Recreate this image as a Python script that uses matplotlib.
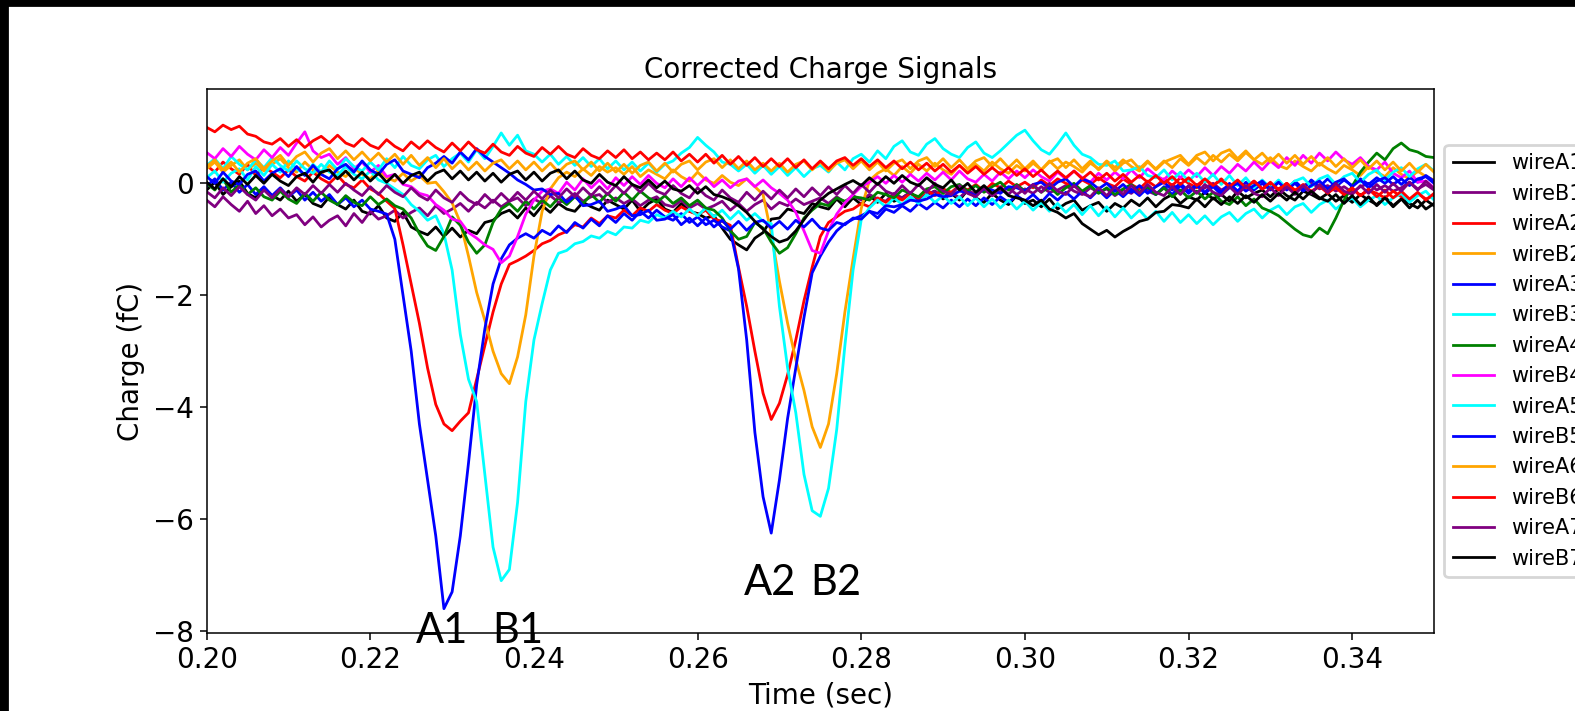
import matplotlib.pyplot as plt
import numpy as np
from matplotlib.patches import Rectangle

# sample times (1 ms grid, 0.200 .. 0.350 s)
time_s = np.linspace(0.200, 0.350, 151)

# charge per wire (fC)
wireA1 = [-0.12, 0.02, -0.2, -0.06, 0.04, -0.18, -0.26, -0.08, -0.22, -0.3,
          -0.14, -0.32, -0.2, -0.36, -0.42, -0.24, -0.38, -0.46, -0.3, -0.5,
          -0.55, -0.4, -0.62, -0.68, -0.52, -0.78, -0.86, -0.92, -0.78, -0.95,
          -0.8, -0.96, -0.84, -0.9, -0.7, -0.66, -0.54, -0.48, -0.62, -0.44,
          -0.58, -0.4, -0.52, -0.36, -0.46, -0.5, -0.34, -0.42, -0.48, -0.3,
          -0.38, -0.46, -0.3, -0.5, -0.36, -0.28, -0.46, -0.52, -0.36, -0.5,
          -0.54, -0.62, -0.58, -0.8, -1.0, -1.1, -1.19, -0.98, -0.88, -0.64,
          -0.62, -0.46, -0.5, -0.54, -0.36, -0.42, -0.46, -0.28, -0.42, -0.26,
          -0.38, -0.22, -0.34, -0.18, -0.32, -0.26, -0.16, -0.3, -0.2, -0.14,
          -0.28, -0.18, -0.3, -0.12, -0.26, -0.34, -0.18, -0.3, -0.38, -0.22,
          -0.36, -0.3, -0.42, -0.28, -0.46, -0.36, -0.3, -0.48, -0.4, -0.34,
          -0.5, -0.36, -0.44, -0.3, -0.4, -0.26, -0.42, -0.28, -0.2, -0.36,
          -0.24, -0.3, -0.16, -0.28, -0.2, -0.32, -0.14, -0.26, -0.18, -0.12,
          -0.24, -0.1, -0.22, -0.3, -0.14, -0.2, -0.28, -0.18, -0.32, -0.22,
          -0.34, -0.2, -0.3, -0.38, -0.24, -0.4, -0.28, -0.36, -0.44, -0.3,
          -0.4]
wireB1 = [-0.3, -0.42, -0.24, -0.38, -0.5, -0.32, -0.54, -0.4, -0.58, -0.46,
          -0.62, -0.56, -0.74, -0.6, -0.78, -0.66, -0.58, -0.76, -0.54, -0.7,
          -0.5, -0.64, -0.58, -0.48, -0.62, -0.52, -0.44, -0.58, -0.4, -0.54,
          -0.46, -0.36, -0.5, -0.34, -0.44, -0.3, -0.42, -0.32, -0.26, -0.4,
          -0.28, -0.36, -0.22, -0.34, -0.3, -0.18, -0.32, -0.24, -0.2, -0.34,
          -0.26, -0.36, -0.28, -0.4, -0.3, -0.24, -0.38, -0.42, -0.3, -0.44,
          -0.36, -0.46, -0.4, -0.32, -0.48, -0.36, -0.5, -0.38, -0.3, -0.46,
          -0.34, -0.4, -0.28, -0.38, -0.32, -0.26, -0.36, -0.24, -0.34, -0.22,
          -0.3, -0.2, -0.28, -0.32, -0.18, -0.26, -0.16, -0.3, -0.2, -0.14,
          -0.24, -0.16, -0.26, -0.12, -0.2, -0.1, -0.22, -0.14, -0.08, -0.2,
          -0.1, -0.18, -0.06, -0.16, -0.12, -0.04, -0.14, -0.2, -0.08, -0.16,
          -0.1, -0.22, -0.12, -0.18, -0.06, -0.14, -0.2, -0.08, -0.02, -0.14,
          -0.06, -0.16, -0.08, 0.0, -0.12, -0.04, -0.14, -0.08, 0.02, -0.1,
          -0.02, -0.12, -0.06, -0.14, -0.04, 0.02, -0.1, -0.04, -0.14, -0.06,
          -0.16, -0.06, 0.0, -0.12, -0.04, -0.14, -0.08, 0.02, -0.1, -0.02,
          -0.12]
wireA2 = [0.32, 0.2, 0.38, 0.26, 0.16, 0.34, 0.14, 0.28, 0.2, 0.1,
          0.24, 0.12, 0.04, 0.2, 0.08, 0.0, 0.14, -0.02, -0.08, 0.06,
          -0.1, -0.18, -0.32, -0.45, -1.1, -1.8, -2.5, -3.3, -3.95, -4.3,
          -4.42, -4.25, -4.1, -3.5, -2.9, -2.3, -1.8, -1.45, -1.38, -1.3,
          -1.2, -1.08, -1.02, -0.92, -0.86, -0.74, -0.78, -0.62, -0.72, -0.58,
          -0.62, -0.48, -0.58, -0.44, -0.5, -0.38, -0.48, -0.54, -0.42, -0.5,
          -0.56, -0.48, -0.64, -0.68, -0.75, -1.5, -2.2, -3.0, -3.75, -4.22,
          -3.93, -3.42, -2.8, -2.1, -1.5, -0.95, -0.7, -0.6, -0.5, -0.46,
          -0.36, -0.42, -0.26, -0.34, -0.22, -0.3, -0.18, -0.26, -0.12, -0.22,
          -0.1, -0.16, -0.04, -0.12, -0.02, -0.14, 0.0, -0.08, 0.04, -0.06,
          0.02, -0.08, 0.06, -0.04, 0.08, 0.0, -0.06, 0.06, -0.02, 0.1,
          0.0, -0.06, 0.08, -0.02, -0.1, 0.04, -0.06, 0.08, -0.04, 0.1,
          0.0, -0.08, 0.06, -0.04, 0.08, -0.06, 0.02, -0.08, 0.04, -0.1,
          -0.02, -0.1, 0.0, -0.12, -0.04, -0.14, -0.06, -0.16, -0.08, -0.2,
          -0.1, -0.22, -0.12, -0.18, -0.26, -0.14, -0.24, -0.3, -0.18, -0.28,
          -0.22]
wireB2 = [0.26, 0.38, 0.2, 0.32, 0.42, 0.24, 0.36, 0.22, 0.34, 0.44,
          0.28, 0.2, 0.38, 0.24, 0.16, 0.32, 0.2, 0.12, 0.28, 0.16,
          0.08, 0.24, 0.1, 0.04, 0.18, 0.04, 0.14, 0.0, 0.02, -0.15,
          -0.35, -0.7, -1.3, -1.95, -2.45, -3.0, -3.4, -3.58, -3.1, -2.35,
          -1.3, -0.5, -0.1, 0.1, 0.2, 0.12, 0.26, 0.14, 0.3, 0.2,
          0.28, 0.16, 0.3, 0.12, 0.24, 0.16, 0.08, 0.24, 0.12, 0.04,
          0.2, 0.06, 0.0, 0.14, 0.02, -0.04, 0.08, -0.06, -0.2, -0.9,
          -1.75, -2.5, -3.15, -3.7, -4.35, -4.72, -4.3, -3.4, -2.3, -1.35,
          -0.45, 0.05, 0.18, 0.26, 0.14, 0.3, 0.18, 0.34, 0.22, 0.36,
          0.24, 0.16, 0.32, 0.2, 0.34, 0.22, 0.38, 0.26, 0.18, 0.32,
          0.22, 0.36, 0.24, 0.4, 0.26, 0.38, 0.3, 0.2, 0.36, 0.26,
          0.4, 0.28, 0.42, 0.3, 0.22, 0.38, 0.26, 0.4, 0.28, 0.44,
          0.32, 0.46, 0.34, 0.5, 0.38, 0.52, 0.4, 0.55, 0.42, 0.34,
          0.46, 0.32, 0.26, 0.4, 0.3, 0.22, 0.36, 0.26, 0.18, 0.32,
          0.24, 0.14, 0.3, 0.2, 0.12, 0.28, 0.16, 0.08, 0.22, 0.12,
          0.06]
wireA3 = [-0.05, 0.08, -0.12, 0.02, -0.16, -0.02, -0.2, -0.06, -0.22, -0.08,
          -0.24, -0.12, -0.3, -0.16, -0.32, -0.2, -0.38, -0.26, -0.42, -0.3,
          -0.46, -0.5, -0.55, -1.0, -2.0, -3.0, -4.3, -5.3, -6.3, -7.6,
          -7.3, -6.3, -5.0, -3.6, -2.6, -1.8, -1.35, -1.1, -0.98, -0.9,
          -0.98, -0.84, -0.92, -0.76, -0.88, -0.7, -0.8, -0.64, -0.76, -0.58,
          -0.7, -0.54, -0.66, -0.5, -0.62, -0.48, -0.6, -0.66, -0.54, -0.7,
          -0.6, -0.74, -0.66, -0.78, -0.85, -1.53, -2.8, -4.45, -5.6, -6.25,
          -5.3, -4.2, -3.3, -2.4, -1.6, -1.3, -1.05, -0.85, -0.72, -0.64,
          -0.58, -0.5, -0.62, -0.46, -0.52, -0.4, -0.5, -0.36, -0.46, -0.34,
          -0.44, -0.3, -0.42, -0.28, -0.4, -0.26, -0.38, -0.24, -0.34, -0.22,
          -0.32, -0.2, -0.34, -0.18, -0.3, -0.16, -0.28, -0.14, -0.26, -0.12,
          -0.26, -0.12, -0.24, -0.1, -0.22, -0.08, -0.2, -0.06, -0.2, -0.04,
          -0.18, -0.04, -0.16, -0.02, -0.16, 0.0, -0.14, 0.02, -0.12, 0.0,
          -0.12, 0.02, -0.1, 0.04, -0.1, 0.06, -0.06, 0.08, -0.06, 0.06,
          -0.04, 0.08, -0.02, 0.1, 0.0, 0.12, -0.02, 0.1, 0.02, 0.14,
          0.04]
wireB3 = [0.32, 0.44, 0.26, 0.48, 0.34, 0.24, 0.42, 0.28, 0.46, 0.32,
          0.22, 0.4, 0.26, 0.18, 0.34, 0.2, 0.14, 0.3, 0.16, 0.08,
          0.22, 0.06, 0.0, -0.1, -0.2, -0.38, -0.5, -0.66, -0.58, -0.9,
          -1.55, -2.7, -3.5, -3.9, -5.2, -6.5, -7.1, -6.9, -5.7, -3.9,
          -2.8, -2.15, -1.55, -1.25, -1.2, -1.08, -1.04, -0.94, -0.98, -0.86,
          -0.92, -0.78, -0.8, -0.66, -0.7, -0.56, -0.62, -0.5, -0.6, -0.46,
          -0.58, -0.44, -0.6, -0.48, -0.64, -0.5, -0.66, -0.54, -0.68, -0.72,
          -2.2, -3.3, -4.1, -5.2, -5.85, -5.95, -5.45, -4.4, -2.9, -1.55,
          -0.65, -0.44, -0.3, -0.42, -0.26, -0.38, -0.24, -0.36, -0.2, -0.34,
          -0.22, -0.36, -0.24, -0.4, -0.26, -0.42, -0.28, -0.44, -0.3, -0.46,
          -0.32, -0.48, -0.34, -0.5, -0.36, -0.52, -0.38, -0.56, -0.4, -0.58,
          -0.42, -0.6, -0.44, -0.62, -0.48, -0.64, -0.5, -0.68, -0.52, -0.7,
          -0.56, -0.72, -0.58, -0.74, -0.6, -0.52, -0.68, -0.54, -0.46, -0.62,
          -0.48, -0.4, -0.56, -0.42, -0.36, -0.52, -0.38, -0.3, -0.46, -0.34,
          -0.26, -0.42, -0.3, -0.22, -0.38, -0.26, -0.18, -0.34, -0.22, -0.14,
          -0.3]
wireA4 = [0.0, -0.12, 0.08, -0.16, -0.02, -0.2, -0.08, -0.24, -0.3, -0.14,
          -0.28, -0.36, -0.18, -0.32, -0.16, -0.3, -0.38, -0.22, -0.34, -0.4,
          -0.24, -0.38, -0.28, -0.4, -0.46, -0.62, -0.9, -1.12, -1.2, -0.95,
          -0.6, -0.75, -1.05, -1.25, -1.1, -0.7, -0.46, -0.36, -0.5, -0.32,
          -0.46, -0.3, -0.42, -0.26, -0.38, -0.24, -0.36, -0.2, -0.34, -0.18,
          -0.32, -0.16, -0.3, -0.14, -0.26, -0.34, -0.22, -0.36, -0.26, -0.4,
          -0.3, -0.44, -0.48, -0.62, -0.85, -1.0, -0.95, -0.7, -0.8, -1.05,
          -1.25, -1.15, -0.9, -0.62, -0.48, -0.36, -0.4, -0.26, -0.32, -0.24,
          -0.26, -0.3, -0.16, -0.2, -0.26, -0.12, -0.18, -0.24, -0.1, -0.06,
          -0.18, -0.06, -0.02, -0.14, -0.04, -0.16, -0.06, 0.02, -0.12, -0.02,
          -0.14, -0.04, -0.16, -0.06, -0.2, -0.08, 0.0, -0.14, -0.04, -0.18,
          -0.08, -0.2, -0.1, -0.02, -0.16, -0.06, -0.2, -0.08, -0.24, -0.12,
          -0.26, -0.14, -0.28, -0.16, -0.32, -0.38, -0.24, -0.4, -0.28, -0.44,
          -0.5, -0.58, -0.7, -0.82, -0.92, -0.96, -0.8, -0.9, -0.62, -0.3,
          -0.05, 0.2, 0.38, 0.54, 0.42, 0.62, 0.72, 0.6, 0.56, 0.48,
          0.46]
wireB4 = [0.55, 0.44, 0.62, 0.48, 0.66, 0.52, 0.42, 0.6, 0.46, 0.64,
          0.5, 0.72, 0.92, 0.58, 0.46, 0.52, 0.34, 0.46, 0.26, 0.38,
          0.2, 0.32, 0.12, 0.16, -0.02, -0.06, -0.18, -0.22, -0.38, -0.48,
          -0.64, -0.68, -0.88, -0.98, -1.1, -1.18, -1.42, -1.3, -0.95, -0.55,
          -0.3, -0.14, -0.1, -0.18, 0.02, -0.12, 0.08, -0.08, 0.06, -0.1,
          0.1, -0.04, 0.12, -0.02, 0.14, 0.0, -0.08, 0.08, -0.06, 0.1,
          -0.04, 0.1, -0.06, 0.06, -0.08, 0.04, 0.08, -0.06, 0.06, -0.08,
          -0.18, -0.3, -0.52, -0.85, -1.2, -1.25, -0.85, -0.55, -0.35, -0.2,
          -0.06, 0.02, 0.12, 0.0, 0.14, 0.02, 0.16, 0.04, 0.18, 0.06,
          0.2, 0.06, 0.22, 0.08, 0.02, 0.16, 0.04, 0.2, 0.08, 0.22,
          0.1, 0.24, 0.12, 0.04, 0.2, 0.08, 0.22, 0.1, 0.02, 0.18,
          0.06, 0.2, 0.08, 0.24, 0.1, 0.26, 0.14, 0.06, 0.22, 0.1,
          0.24, 0.12, 0.28, 0.14, 0.3, 0.18, 0.34, 0.22, 0.38, 0.24,
          0.4, 0.28, 0.46, 0.32, 0.5, 0.36, 0.54, 0.4, 0.56, 0.42,
          0.34, 0.46, 0.3, 0.24, 0.38, 0.18, 0.1, 0.22, 0.02, 0.04,
          -0.08]
wireA5 = [0.1, 0.22, 0.02, 0.18, 0.26, 0.06, 0.3, 0.14, 0.34, 0.2,
          0.4, 0.26, 0.16, 0.34, 0.2, 0.4, 0.24, 0.44, 0.3, 0.22,
          0.38, 0.24, 0.44, 0.28, 0.48, 0.32, 0.26, 0.42, 0.5, 0.3,
          0.44, 0.54, 0.38, 0.6, 0.44, 0.66, 0.9, 0.68, 0.86, 0.58,
          0.52, 0.38, 0.52, 0.34, 0.48, 0.32, 0.46, 0.3, 0.44, 0.26,
          0.4, 0.24, 0.38, 0.22, 0.36, 0.2, 0.34, 0.4, 0.54, 0.64,
          0.82, 0.68, 0.56, 0.38, 0.34, 0.22, 0.34, 0.18, 0.32, 0.16,
          0.3, 0.14, 0.28, 0.12, 0.26, 0.32, 0.2, 0.38, 0.24, 0.44,
          0.52, 0.38, 0.58, 0.44, 0.66, 0.76, 0.56, 0.5, 0.7, 0.8,
          0.62, 0.52, 0.46, 0.64, 0.74, 0.54, 0.46, 0.58, 0.72, 0.86,
          0.95, 0.76, 0.6, 0.52, 0.7, 0.9, 0.68, 0.52, 0.46, 0.34,
          0.32, 0.4, 0.22, 0.24, 0.3, 0.14, 0.1, 0.24, 0.06, 0.2,
          0.04, 0.18, 0.02, 0.16, -0.02, 0.14, -0.04, 0.1, -0.08, 0.06,
          -0.08, 0.06, -0.1, 0.04, 0.1, -0.06, 0.08, 0.14, -0.02, 0.12,
          0.18, 0.02, 0.16, 0.24, 0.06, 0.2, 0.28, 0.12, 0.26, 0.34,
          0.22]
wireB5 = [0.12, 0.0, 0.2, 0.04, -0.02, 0.16, 0.22, 0.04, 0.18, 0.26,
          0.12, 0.3, 0.14, 0.32, 0.16, 0.08, 0.26, 0.34, 0.2, 0.4,
          0.24, 0.16, 0.34, 0.42, 0.22, 0.16, 0.1, 0.28, 0.36, 0.48,
          0.36, 0.56, 0.42, 0.62, 0.48, 0.38, 0.28, 0.18, 0.06, -0.02,
          -0.12, -0.1, -0.2, -0.18, -0.34, -0.22, -0.4, -0.38, -0.32, -0.5,
          -0.46, -0.4, -0.58, -0.56, -0.48, -0.66, -0.64, -0.56, -0.74, -0.62,
          -0.76, -0.62, -0.78, -0.66, -0.82, -0.68, -0.84, -0.7, -0.66, -0.8,
          -0.68, -0.82, -0.66, -0.78, -0.64, -0.8, -0.84, -0.7, -0.74, -0.62,
          -0.64, -0.5, -0.54, -0.4, -0.42, -0.38, -0.3, -0.32, -0.28, -0.2,
          -0.24, -0.22, -0.14, -0.16, -0.22, -0.1, -0.12, -0.18, -0.06, -0.08,
          -0.14, -0.02, 0.02, -0.1, 0.02, 0.08, -0.06, 0.08, 0.02, -0.1,
          0.0, -0.14, -0.02, -0.16, -0.04, -0.18, -0.06, 0.02, -0.12, 0.0,
          -0.14, -0.02, -0.18, -0.06, -0.2, -0.08, 0.0, -0.14, -0.04, 0.04,
          -0.1, 0.02, -0.12, 0.0, -0.14, -0.04, 0.04, -0.1, 0.02, 0.08,
          -0.06, 0.06, -0.08, 0.04, 0.1, -0.02, 0.08, -0.04, 0.08, 0.12,
          0.0]
wireA6 = [0.3, 0.42, 0.24, 0.38, 0.2, 0.36, 0.44, 0.26, 0.4, 0.5,
          0.32, 0.48, 0.56, 0.38, 0.54, 0.62, 0.44, 0.58, 0.42, 0.56,
          0.4, 0.54, 0.38, 0.52, 0.34, 0.5, 0.32, 0.46, 0.28, 0.44,
          0.26, 0.4, 0.24, 0.38, 0.22, 0.36, 0.42, 0.26, 0.4, 0.24,
          0.38, 0.22, 0.36, 0.2, 0.34, 0.4, 0.24, 0.38, 0.22, 0.36,
          0.2, 0.34, 0.18, 0.32, 0.38, 0.22, 0.36, 0.2, 0.34, 0.4,
          0.24, 0.38, 0.44, 0.28, 0.42, 0.26, 0.4, 0.24, 0.36, 0.22,
          0.36, 0.2, 0.34, 0.4, 0.24, 0.38, 0.22, 0.36, 0.42, 0.26,
          0.4, 0.24, 0.38, 0.22, 0.36, 0.42, 0.26, 0.4, 0.46, 0.3,
          0.44, 0.28, 0.42, 0.26, 0.4, 0.46, 0.3, 0.44, 0.28, 0.42,
          0.26, 0.4, 0.24, 0.38, 0.44, 0.28, 0.42, 0.26, 0.4, 0.24,
          0.38, 0.22, 0.36, 0.42, 0.26, 0.4, 0.24, 0.38, 0.44, 0.5,
          0.34, 0.5, 0.56, 0.4, 0.54, 0.6, 0.44, 0.58, 0.42, 0.54,
          0.38, 0.52, 0.36, 0.5, 0.34, 0.48, 0.32, 0.46, 0.3, 0.44,
          0.28, 0.42, 0.26, 0.4, 0.24, 0.38, 0.22, 0.36, 0.2, 0.34,
          0.2]
wireB6 = [1.0, 0.92, 1.04, 0.96, 1.02, 0.88, 0.84, 0.74, 0.7, 0.8,
          0.66, 0.78, 0.64, 0.76, 0.84, 0.72, 0.86, 0.72, 0.66, 0.8,
          0.68, 0.62, 0.78, 0.66, 0.58, 0.74, 0.62, 0.76, 0.64, 0.56,
          0.72, 0.58, 0.74, 0.6, 0.54, 0.7, 0.56, 0.5, 0.66, 0.54,
          0.48, 0.64, 0.52, 0.66, 0.52, 0.46, 0.62, 0.5, 0.44, 0.58,
          0.46, 0.6, 0.44, 0.56, 0.42, 0.54, 0.42, 0.56, 0.4, 0.52,
          0.38, 0.52, 0.36, 0.5, 0.34, 0.48, 0.32, 0.46, 0.3, 0.44,
          0.3, 0.44, 0.28, 0.42, 0.26, 0.4, 0.26, 0.4, 0.46, 0.32,
          0.44, 0.3, 0.42, 0.28, 0.4, 0.26, 0.38, 0.24, 0.36, 0.22,
          0.34, 0.2, 0.32, 0.18, 0.3, 0.16, 0.28, 0.16, 0.28, 0.14,
          0.26, 0.12, 0.24, 0.1, 0.22, 0.1, 0.22, 0.08, 0.2, 0.06,
          0.18, 0.04, 0.16, 0.02, 0.14, 0.02, 0.14, 0.0, 0.12, -0.02,
          0.1, -0.04, 0.08, -0.04, 0.06, -0.06, 0.06, -0.08, 0.04, -0.1,
          0.02, -0.12, 0.0, -0.14, -0.02, -0.16, -0.04, -0.18, -0.06, -0.2,
          -0.08, -0.22, -0.1, -0.24, -0.12, -0.26, -0.14, -0.28, -0.16, -0.3,
          -0.18]
wireA7 = [-0.15, -0.26, -0.08, -0.22, -0.06, -0.2, -0.3, -0.12, -0.26, -0.1,
          -0.24, -0.08, -0.2, -0.04, -0.18, -0.02, -0.16, 0.0, -0.12, -0.22,
          -0.06, -0.2, -0.04, -0.16, -0.24, -0.08, -0.22, -0.3, -0.12, -0.26,
          -0.34, -0.16, -0.3, -0.38, -0.2, -0.34, -0.18, -0.32, -0.16, -0.3,
          -0.14, -0.28, -0.12, -0.26, -0.1, -0.24, -0.08, -0.22, -0.06, -0.2,
          -0.04, -0.18, -0.02, -0.16, 0.0, -0.14, -0.2, -0.04, -0.18, -0.26,
          -0.08, -0.22, -0.3, -0.12, -0.26, -0.34, -0.16, -0.3, -0.14, -0.28,
          -0.12, -0.26, -0.1, -0.24, -0.08, -0.22, -0.06, -0.2, -0.04, -0.18,
          -0.02, -0.16, 0.0, -0.14, -0.2, -0.04, -0.18, -0.02, -0.16, 0.0,
          -0.14, -0.2, -0.04, -0.18, -0.24, -0.08, -0.22, -0.06, -0.2, -0.04,
          -0.18, -0.02, -0.16, 0.0, -0.14, -0.2, -0.04, -0.18, -0.24, -0.08,
          -0.22, -0.06, -0.2, -0.04, -0.18, -0.02, -0.16, -0.22, -0.06, -0.2,
          -0.04, -0.18, -0.02, -0.16, -0.22, -0.06, -0.2, -0.04, -0.18, -0.24,
          -0.08, -0.22, -0.06, -0.2, -0.04, -0.18, -0.02, -0.16, 0.0, -0.14,
          -0.2, -0.04, -0.18, -0.02, -0.16, 0.0, -0.14, 0.02, -0.12, 0.04,
          -0.1]
wireB7 = [0.02, -0.1, 0.08, -0.06, 0.12, -0.02, 0.14, 0.0, 0.16, 0.04,
          -0.04, 0.12, 0.18, 0.02, 0.2, 0.24, 0.08, 0.22, 0.06, 0.2,
          0.04, 0.18, 0.02, 0.16, 0.0, 0.14, 0.2, 0.04, 0.18, 0.24,
          0.08, 0.22, 0.06, 0.2, 0.04, 0.18, 0.02, 0.16, 0.22, 0.06,
          0.2, 0.04, 0.18, 0.24, 0.08, 0.22, 0.06, 0.0, 0.16, 0.02,
          -0.04, 0.12, -0.02, -0.08, 0.06, -0.08, 0.04, -0.1, -0.14, -0.04,
          -0.18, -0.06, -0.2, -0.24, -0.3, -0.4, -0.52, -0.68, -0.82, -0.95,
          -1.05, -1.0, -0.85, -0.65, -0.45, -0.3, -0.18, -0.1, -0.02, 0.05,
          -0.04, 0.1, -0.02, 0.12, 0.0, 0.14, 0.02, -0.04, 0.1, -0.02,
          -0.08, 0.06, -0.12, 0.0, -0.16, -0.04, -0.18, -0.08, -0.22, -0.26,
          -0.3, -0.4, -0.3, -0.46, -0.52, -0.62, -0.54, -0.72, -0.82, -0.92,
          -0.84, -0.96, -0.86, -0.78, -0.68, -0.64, -0.52, -0.5, -0.38, -0.4,
          -0.44, -0.28, -0.42, -0.26, -0.38, -0.24, -0.36, -0.22, -0.34, -0.2,
          -0.32, -0.18, -0.3, -0.16, -0.28, -0.14, -0.26, -0.32, -0.2, -0.36,
          -0.22, -0.38, -0.24, -0.4, -0.26, -0.42, -0.28, -0.44, -0.3, -0.46,
          -0.36]

wire_names = ["wireA1", "wireB1", "wireA2", "wireB2", "wireA3", "wireB3", "wireA4",
              "wireB4", "wireA5", "wireB5", "wireA6", "wireB6", "wireA7", "wireB7"]
wire_data = [wireA1, wireB1, wireA2, wireB2, wireA3, wireB3, wireA4,
             wireB4, wireA5, wireB5, wireA6, wireB6, wireA7, wireB7]
wire_colors = ["black", "purple", "red", "orange", "blue", "cyan", "green",
               "magenta", "cyan", "blue", "orange", "red", "purple", "black"]

# event labels: (text, time, charge)
event_labels = [("A1", 0.22875, -8.22), ("B1", 0.2380, -8.22),
                ("A2", 0.26888, -7.36), ("B2", 0.27688, -7.36)]

fig = plt.figure(figsize=(7.875, 3.555), dpi=200)
ax = fig.add_axes([0.1312, 0.1093, 0.7793, 0.7659])

for name, vals, col in zip(wire_names, wire_data, wire_colors):
    ax.plot(time_s, vals, color=col, linewidth=1.0, label=name)

for lab, tx, ty in event_labels:
    ax.text(tx, ty, lab, ha="center", va="baseline", fontsize=15,
            family=["Lato", "DejaVu Sans"], clip_on=False)

ax.set_xlim(0.2, 0.35)
ax.set_ylim(-8.04, 1.69)
ax.set_xticks([0.20, 0.22, 0.24, 0.26, 0.28, 0.30, 0.32, 0.34])
ax.set_yticks([-8, -6, -4, -2, 0])
ax.tick_params(labelsize=10, length=2.4, width=0.55, pad=2.3)
for sp in ax.spines.values():
    sp.set_linewidth(0.55)

ax.set_title("Corrected Charge Signals", fontsize=10, pad=4)
ax.set_xlabel("Time (sec)", fontsize=10, labelpad=2.5)
ax.set_ylabel("Charge (fC)", fontsize=10, labelpad=2.7)

# legend sits right of the axes and runs off the figure edge, as in the reference
ax.legend(loc="center left", bbox_to_anchor=(1.0, 0.5), fontsize=7.5,
          labelspacing=0.5, borderaxespad=0.5)

# black strips along the left and top edges of the screenshot
fig.add_artist(Rectangle((0, 0), 0.00464, 1, transform=fig.transFigure,
                         color="black", zorder=10))
fig.add_artist(Rectangle((0, 1 - 0.0066), 1, 0.0066, transform=fig.transFigure,
                         color="black", zorder=10))

fig.savefig("out.png", dpi=200)
